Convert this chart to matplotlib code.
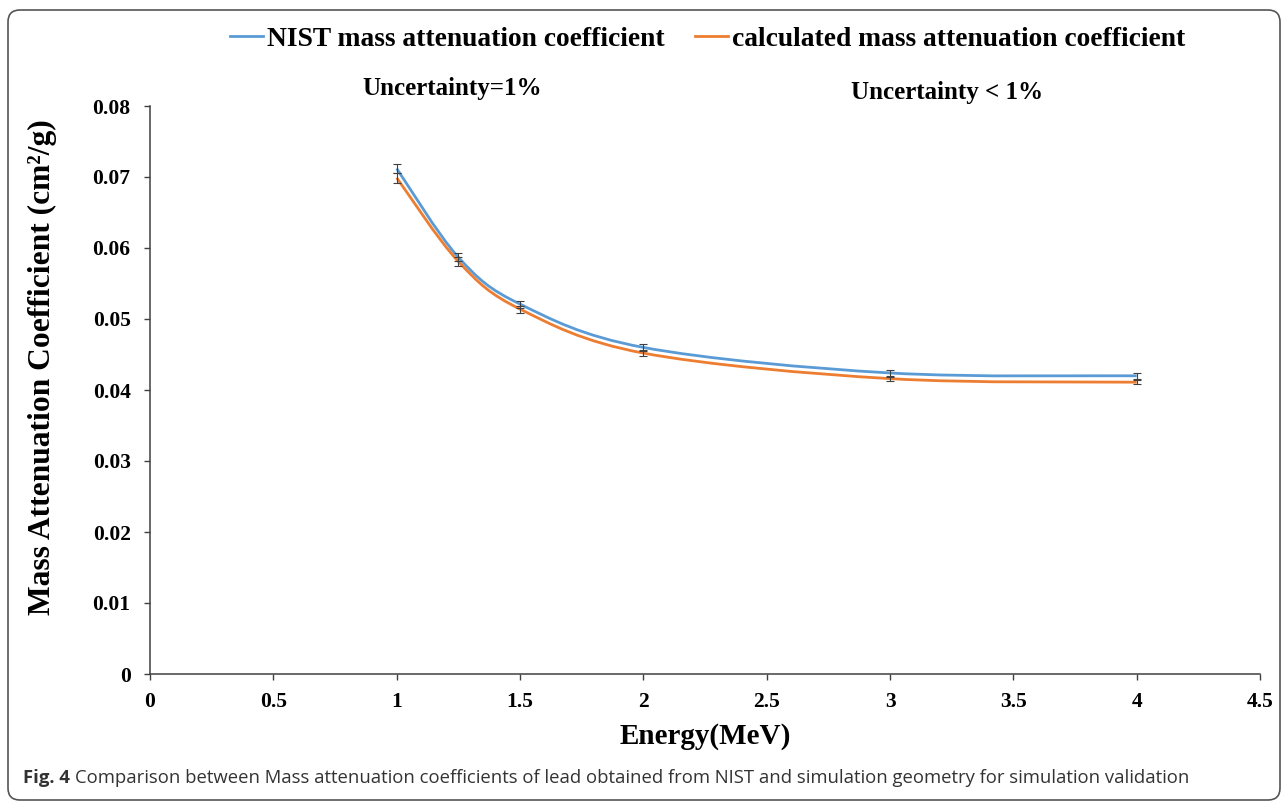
import numpy as np
import matplotlib
matplotlib.use('Agg')
from matplotlib import pyplot as plt
from matplotlib.path import Path
from matplotlib.patches import PathPatch, FancyBboxPatch
from matplotlib.lines import Line2D
from matplotlib.ticker import FuncFormatter, MultipleLocator

# energies (MeV) and mass attenuation coefficients (cm2/g)
energy = [1.0, 1.25, 1.5, 2.0, 3.0, 4.0]
nist = [0.0712, 0.0587, 0.0521, 0.0460, 0.0424, 0.0420]
calc = [0.0699, 0.0581, 0.0514, 0.0452, 0.0416, 0.0411]
nist_err = [0.0007, 0.0006, 0.0005, 0.0005, 0.0004, 0.0004]
calc_err = [0.0007, 0.0006, 0.0005, 0.0004, 0.0003, 0.0003]

blue = '#5B9BD5'
orange = '#ED7D31'
serif = 'Liberation Serif'


def smooth_path(xs, ys):
    # excel-like smoothed line: cubic bezier through the points
    pts = np.column_stack([xs, ys])
    n = len(pts)
    verts = [pts[0]]
    codes = [Path.MOVETO]
    for i in range(n - 1):
        p0 = pts[max(i - 1, 0)]
        p1 = pts[i]
        p2 = pts[i + 1]
        p3 = pts[min(i + 2, n - 1)]
        c1 = p1 + (p2 - p0) / 6.0
        c2 = p2 - (p3 - p1) / 6.0
        verts += [c1, c2, p2]
        codes += [Path.CURVE4] * 3
    return Path(verts, codes)


fig = plt.figure(figsize=(12.87, 8.08), dpi=100)
ax = fig.add_axes([150 / 1287, 1 - 674 / 808, 1110 / 1287, 568 / 808])

for ys, err, col in [(nist, nist_err, blue), (calc, calc_err, orange)]:
    ax.add_patch(PathPatch(smooth_path(energy, ys), facecolor='none',
                           edgecolor=col, lw=2.0, zorder=2))
    ax.errorbar(energy, ys, yerr=err, fmt='none', ecolor='#404040',
                elinewidth=0.8, capsize=3, capthick=0.8, zorder=3)

ax.set_xlim(0, 4.5)
ax.set_ylim(0, 0.08)
ax.xaxis.set_major_locator(MultipleLocator(0.5))
ax.yaxis.set_major_locator(MultipleLocator(0.01))
ax.xaxis.set_major_formatter(FuncFormatter(lambda v, p: '{:g}'.format(round(v, 3))))
ax.yaxis.set_major_formatter(FuncFormatter(lambda v, p: '{:g}'.format(round(v, 3))))
for s in ['top', 'right']:
    ax.spines[s].set_visible(False)
for s in ['left', 'bottom']:
    ax.spines[s].set_color('#404040')
    ax.spines[s].set_linewidth(1.1)
ax.tick_params(axis='both', direction='out', length=4, width=1.0, color='#404040')
ax.tick_params(axis='y', pad=10)
ax.tick_params(axis='x', pad=9)
for lab in ax.get_xticklabels() + ax.get_yticklabels():
    lab.set_fontfamily(serif)
    lab.set_fontweight('bold')
    lab.set_fontsize(15.5)

ax.set_xlabel('Energy(MeV)', fontfamily=serif, fontweight='bold', fontsize=21,
              labelpad=8)
ax.set_ylabel('Mass Attenuation Coefficient (cm²/g)', fontfamily=serif,
              fontweight='bold', fontsize=22.7)
ax.yaxis.set_label_coords(-0.084, 0.541)

handles = [Line2D([], [], color=blue, lw=2.0), Line2D([], [], color=orange, lw=2.0)]
fig.legend(handles, ['NIST mass attenuation coefficient',
                     'calculated mass attenuation coefficient'],
           loc='center', bbox_to_anchor=(708 / 1287, 1 - 39 / 808), ncol=2,
           frameon=False, handlelength=1.2, handletextpad=0.15,
           columnspacing=1.1, prop={'family': serif, 'weight': 'bold', 'size': 19.8})

fig.text(452 / 1287, 1 - 88 / 808, 'Uncertainty=1%', ha='center', va='center',
         fontfamily=serif, fontweight='bold', fontsize=18)
fig.text(947 / 1287, 1 - 93 / 808, 'Uncertainty < 1%', ha='center', va='center',
         fontfamily=serif, fontweight='bold', fontsize=18)

# caption
t1 = fig.text(23 / 1287, 1 - 778 / 808, 'Fig. 4', ha='left', va='center',
              fontfamily='Open Sans', fontweight='bold', fontsize=13.3, color='#333333')
ax.annotate('Comparison between Mass attenuation coefficients of lead obtained from NIST '
            'and simulation geometry for simulation validation',
            xy=(1, 0), xycoords=t1, xytext=(4, 0), textcoords='offset points',
            ha='left', va='bottom', fontfamily='Open Sans', fontsize=13.3,
            color='#333333', annotation_clip=False)

# page frame
frame = FancyBboxPatch((0.08, 0.08), 12.72, 7.90,
                       boxstyle='round,pad=0,rounding_size=0.12',
                       transform=fig.dpi_scale_trans, facecolor='none',
                       edgecolor='#555555', lw=1.2)
fig.add_artist(frame)

fig.savefig('out.png', dpi=100)
